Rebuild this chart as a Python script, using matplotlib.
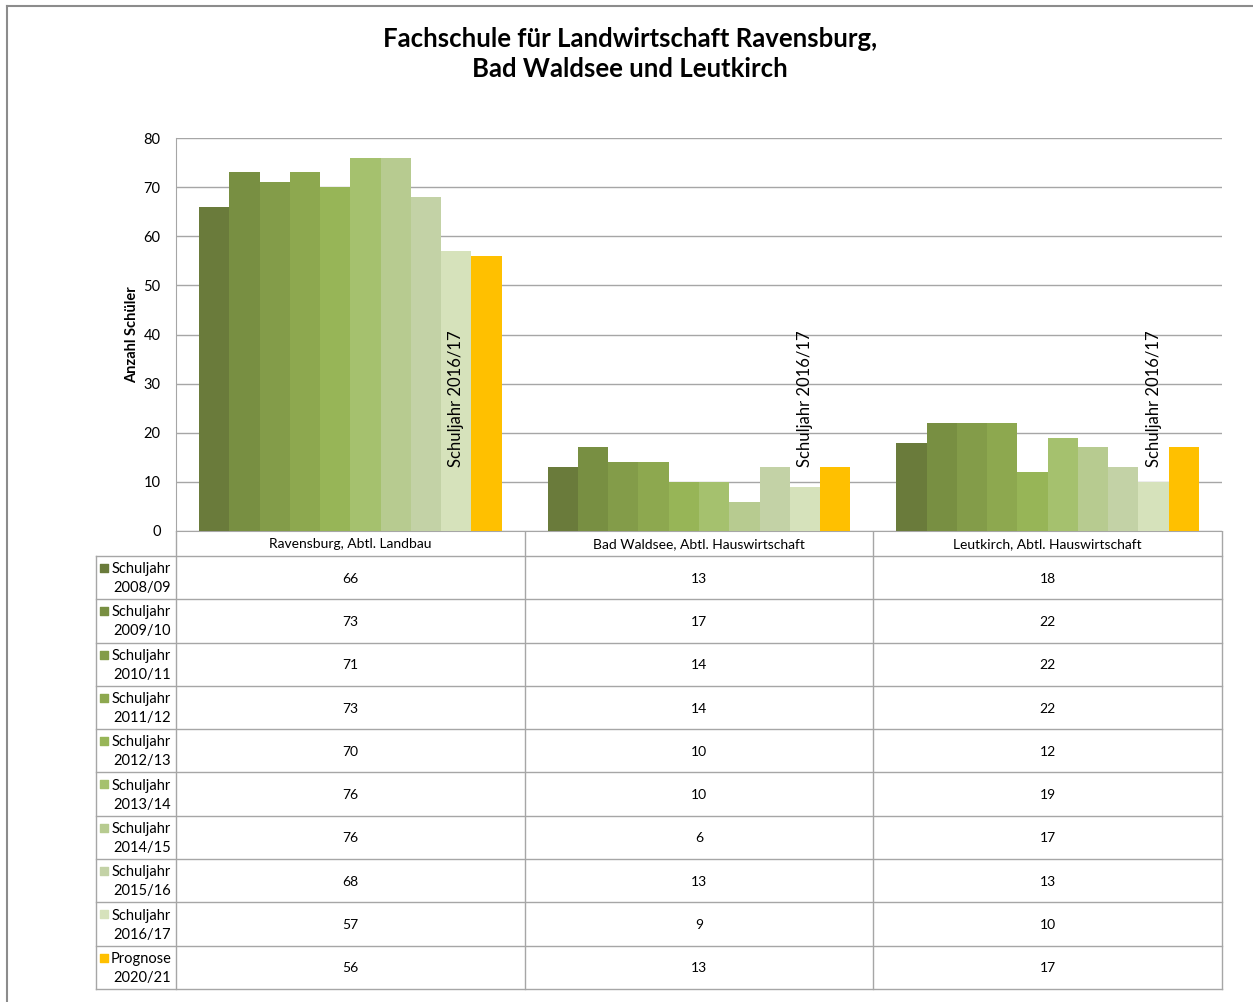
import numpy as np
import matplotlib
matplotlib.use("Agg")
import matplotlib.pyplot as plt

plt.rcParams['font.family'] = ['Lato', 'DejaVu Sans']

# daten
standorte = ["Ravensburg, Abtl. Landbau", "Bad Waldsee, Abtl. Hauswirtschaft", "Leutkirch, Abtl. Hauswirtschaft"]
jahrgaenge = ["Schuljahr\n2008/09", "Schuljahr\n2009/10", "Schuljahr\n2010/11", "Schuljahr\n2011/12",
              "Schuljahr\n2012/13", "Schuljahr\n2013/14", "Schuljahr\n2014/15", "Schuljahr\n2015/16",
              "Schuljahr\n2016/17", "Prognose\n2020/21"]
ravensburg = [66, 73, 71, 73, 70, 76, 76, 68, 57, 56]
bad_waldsee = [13, 17, 14, 14, 10, 10, 6, 13, 9, 13]
leutkirch = [18, 22, 22, 22, 12, 19, 17, 13, 10, 17]
farben = ["#6A7B3B", "#788F42", "#839C49", "#8DA84F", "#97B557",
          "#A5C16E", "#B7CB90", "#C3D2A6", "#D6E2BB", "#FFC000"]

werte = np.array([ravensburg, bad_waldsee, leutkirch])  # (standort, jahr)

W, H = 1253, 1002
fig = plt.figure(figsize=(W / 100, H / 100), dpi=100)
fig.patch.set_facecolor("white")

def fx(px):
    return px / W

def fy(py):
    return 1 - py / H

# rahmen oben / links
fig.add_artist(plt.Line2D([fx(7), fx(7)], [fy(6), 0], color="#8C8C8C", lw=1.5))
fig.add_artist(plt.Line2D([fx(7), 1], [fy(6), fy(6)], color="#8C8C8C", lw=1.5))

# diagramm
L, R, T, B = 176, 1222, 138, 531
ax = fig.add_axes([fx(L), fy(B), fx(R - L), (B - T) / H])
n = len(jahrgaenge)
w = 1 / 11.52
x = np.arange(len(standorte))
for i in range(n):
    ax.bar(x + (i - (n - 1) / 2) * w, werte[:, i], width=w, color=farben[i], zorder=3)

ax.set_xlim(-0.5, 2.5)
ax.set_ylim(0, 80)
ax.set_yticks(range(0, 81, 10))
ax.yaxis.grid(True, color="#A6A6A6", lw=1, zorder=0)
ax.set_xticks([])
ax.tick_params(axis="y", length=0, labelsize=10.5, pad=11)
for s in ["top", "right"]:
    ax.spines[s].set_visible(False)
ax.spines["left"].set_color("#A6A6A6")
ax.spines["bottom"].set_color("#A6A6A6")
ax.set_ylabel("Anzahl Schüler", fontsize=10.5, fontweight="bold")
ax.yaxis.set_label_coords((139 - L) / (R - L), 0.5)

# beschriftung schuljahr 2016/17
for g in x:
    ax.text(g + (8 - (n - 1) / 2) * w, 13, "Schuljahr 2016/17", rotation=90,
            ha="center", va="bottom", fontsize=12, zorder=4)

fig.text(fx(630), fy(54), "Fachschule für Landwirtschaft Ravensburg,\nBad Waldsee und Leutkirch",
         ha="center", va="center", fontsize=18.5, fontweight="bold", linespacing=1.3)

# datentabelle
tab = fig.add_axes([fx(90), fy(995), fx(1232 - 90), (995 - B) / H])
tab.set_xlim(90, 1232)
tab.set_ylim(995, B)
tab.axis("off")
lc = "#A6A6A6"
spalten = [176, 525, 873, 1222]
kopf = 556
zeile_h = (989 - kopf) / n
for xs in spalten:
    tab.plot([xs, xs], [B, 989], color=lc, lw=1)
tab.plot([96, 96], [kopf, 989], color=lc, lw=1)
for k in range(n + 1):
    yy = kopf + k * zeile_h
    tab.plot([96, 1222], [yy, yy], color=lc, lw=1)

for j, name in enumerate(standorte):
    tab.text((spalten[j] + spalten[j + 1]) / 2, (B + kopf) / 2 + 1, name,
             ha="center", va="center", fontsize=10)

for i in range(n):
    y0 = kopf + i * zeile_h
    tab.text(171, y0 + zeile_h / 2 + 1, jahrgaenge[i], ha="right", va="center",
             multialignment="right", fontsize=10.5, linespacing=1.45)
    tab.scatter([104.5], [y0 + 12], marker="s", s=30, color=farben[i], zorder=3)
    for j in range(len(standorte)):
        tab.text((spalten[j] + spalten[j + 1]) / 2, y0 + zeile_h / 2 + 1, str(werte[j, i]),
                 ha="center", va="center", fontsize=10)

fig.savefig("out.png", dpi=100)
